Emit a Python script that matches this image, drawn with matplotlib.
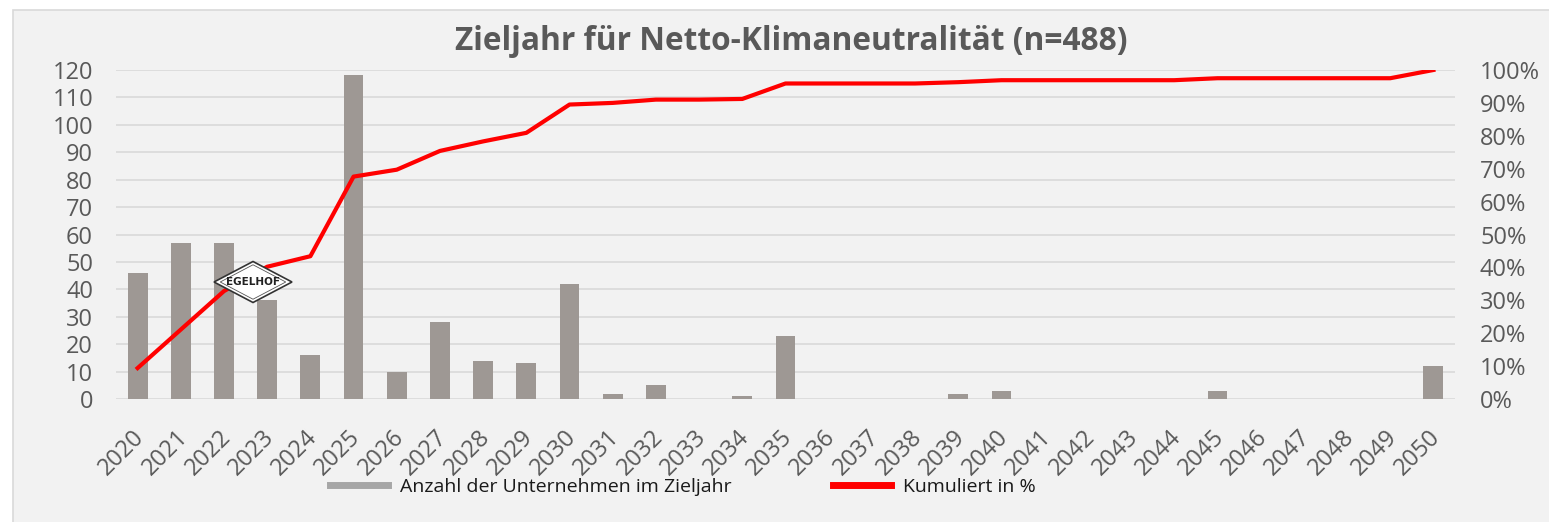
import matplotlib.pyplot as plt
import numpy as np
from matplotlib.lines import Line2D
from matplotlib.patches import Rectangle, Polygon
from matplotlib.transforms import ScaledTranslation

plt.rcParams['font.family'] = ['Open Sans', 'DejaVu Sans']

# Data
years = [str(y) for y in range(2020, 2051)]
companies = [46, 57, 57, 36, 16, 118, 10, 28, 14, 13,
             42, 2, 5, 0, 1, 23, 0, 0, 0, 2,
             3, 0, 0, 0, 0, 3, 0, 0, 0, 0, 12]
cumulative_pct = [9.4, 21.1, 32.8, 40.2, 43.4, 67.6, 69.7, 75.4, 78.3, 80.9,
                  89.5, 90.0, 91.0, 91.0, 91.2, 95.9, 95.9, 95.9, 95.9, 96.3,
                  96.9, 96.9, 96.9, 96.9, 96.9, 97.5, 97.5, 97.5, 97.5, 97.5, 100.0]
left_ticks = np.arange(0, 121, 10)
right_ticks = np.arange(0, 101, 10)

title = 'Zieljahr für Netto-Klimaneutralität (n=488)'
bar_label = 'Anzahl der Unternehmen im Zieljahr'
line_label = 'Kumuliert in %'

W, H = 1549, 522
fig = plt.figure(figsize=(W / 100, H / 100), dpi=100, facecolor='white')

# grey chart panel
fig.patches.append(Rectangle((13 / W, -0.01), 1.0, 1 - 10 / H + 0.01, transform=fig.transFigure,
                             facecolor='#f2f2f2', edgecolor='#d9d9d9', linewidth=1.2, zorder=-5))

ax = fig.add_axes([116 / W, 1 - 399 / H, (1455 - 116) / W, (399 - 70) / H])
ax.patch.set_visible(False)
x = np.arange(len(years))
ax.bar(x, companies, width=0.46, color='#9e9894', zorder=2)
ax.set_xlim(-0.5, len(years) - 0.5)
ax.set_ylim(0, 120)
ax.set_yticks(left_ticks)
ax.set_xticks(x)
ax.set_xticklabels(years, rotation=45, ha='right', va='top', rotation_mode='anchor')
ax.tick_params(axis='both', length=0, labelsize=17, labelcolor='#595959')
ax.tick_params(axis='y', pad=16.5)
ax.tick_params(axis='x', pad=19)
# nudge year labels a bit to the left, as in the original
for lab in ax.get_xticklabels():
    lab.set_transform(lab.get_transform() + ScaledTranslation(-0.05, 0, fig.dpi_scale_trans))
ax.grid(axis='y', color='#d9d9d9', linewidth=1.2, zorder=0)
ax.set_axisbelow(True)
for s in ax.spines.values():
    s.set_visible(False)

ax2 = ax.twinx()
ax2.plot(x, np.array(cumulative_pct) / 100, color='#ff0000', linewidth=3, zorder=3)
ax2.set_ylim(0, 1.0)
ax2.set_yticks(right_ticks / 100)
ax2.set_yticklabels([f'{t}%' for t in right_ticks])
ax2.tick_params(axis='y', length=0, labelsize=17, labelcolor='#595959', pad=18)
for s in ax2.spines.values():
    s.set_visible(False)

# title
fig.text(791 / W, 1 - 42 / H, title, ha='center', va='center', fontsize=22.8,
         fontweight='bold', color='#595959')

# legend
handles = [Line2D([], [], color='#a6a6a6', linewidth=5),
           Line2D([], [], color='#ff0000', linewidth=5)]
fig.legend(handles, [bar_label, line_label], loc='center left',
           bbox_to_anchor=(330 / W, 1 - 487 / H), ncol=2, frameon=False,
           borderpad=0, borderaxespad=0, handlelength=3.0,
           handletextpad=0.6, columnspacing=5.2, labelcolor='#1a1a1a',
           prop={'family': ['Open Sans', 'DejaVu Sans'], 'size': 14})

# EGELHOF logo overlay
cx, cy, lw, lh = 253 / W, 1 - 282 / H, 78 / W, 41 / H
fig.patches.append(Polygon([(cx - lw / 2, cy), (cx, cy + lh / 2), (cx + lw / 2, cy), (cx, cy - lh / 2)],
                           closed=True, transform=fig.transFigure, facecolor='white',
                           edgecolor='#333333', linewidth=1.2, zorder=5))
fig.patches.append(Polygon([(cx - lw * 0.42, cy), (cx, cy + lh * 0.42), (cx + lw * 0.42, cy), (cx, cy - lh * 0.42)],
                           closed=True, transform=fig.transFigure, facecolor='white',
                           edgecolor='#555555', linewidth=0.6, zorder=5))
fig.text(cx, cy, 'EGELHOF', ha='center', va='center', fontsize=7.5, fontweight='bold',
         color='#222222', zorder=6, family=['DejaVu Sans'])

fig.savefig('out.png', dpi=100, facecolor='white')
